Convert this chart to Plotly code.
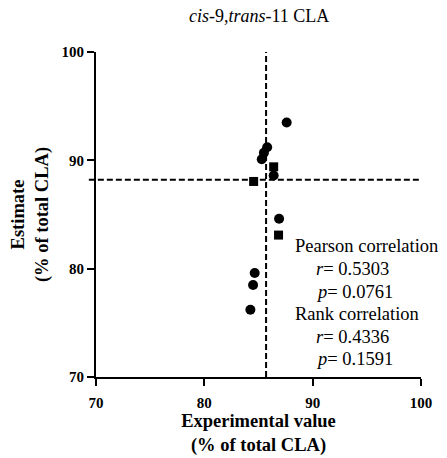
import plotly.graph_objects as go

# Data
circle_x = [87.6, 85.8, 85.5, 85.3, 86.4, 86.9, 84.65, 84.5, 84.25]
circle_y = [93.5, 91.2, 90.7, 90.1, 88.6, 84.6, 79.6, 78.5, 76.2]
square_x = [86.4, 84.55, 86.85]
square_y = [89.4, 88.05, 83.1]
ref_x = 85.7   # vertical dashed reference line
ref_y = 88.2   # horizontal dashed reference line
tick_vals = [70, 80, 90, 100]
stats_lines = [
    "Pearson correlation",
    "<i>r</i>= 0.5303",
    "<i>p</i>= 0.0761",
    "Rank correlation",
    "<i>r</i>= 0.4336",
    "<i>p</i>= 0.1591",
]

FONT = "Liberation Serif, Times New Roman, serif"

fig = go.Figure()
fig.add_trace(go.Scatter(
    x=circle_x, y=circle_y, mode="markers",
    marker=dict(symbol="circle", size=10, color="black"),
    showlegend=False, cliponaxis=False))
fig.add_trace(go.Scatter(
    x=square_x, y=square_y, mode="markers",
    marker=dict(symbol="square", size=9, color="black"),
    showlegend=False, cliponaxis=False))

# dashed reference lines
fig.add_shape(type="line", xref="x", yref="paper", x0=ref_x, x1=ref_x, y0=0, y1=1,
              line=dict(color="black", width=2, dash="6px,3px"))
fig.add_shape(type="line", xref="paper", yref="y", x0=-0.022, x1=1.0, y0=ref_y, y1=ref_y,
              line=dict(color="black", width=2, dash="6px,3px"))

# title
fig.add_annotation(text="<i>cis</i>-9,<i>trans</i>-11 CLA", xref="paper", yref="paper",
                   x=0.5, y=1, yshift=36.5, xanchor="center", yanchor="middle",
                   showarrow=False, font=dict(family=FONT, size=18, color="black"))

# statistics text
indent = [False, True, True, False, True, True]
y_px = [194, 217, 239.5, 262, 284.5, 307]   # centres, px from plot top
for line, ind, yp in zip(stats_lines, indent, y_px):
    fig.add_annotation(text=line, xref="paper", yref="paper",
                       x=(217.5 / 325) if ind else (197 / 325),
                       y=(325 - yp) / 325, xanchor="left", yanchor="middle",
                       showarrow=False, font=dict(family=FONT, size=18.5, color="black"))

axis_common = dict(
    range=[70, 100], tickvals=tick_vals, showline=True, linecolor="black", linewidth=2,
    ticks="outside", ticklen=7, tickwidth=2, tickcolor="black", showgrid=False,
    zeroline=False, tickfont=dict(family=FONT, size=15, color="black", weight="bold"),
    fixedrange=True, automargin=False,
)

fig.update_layout(
    width=447, height=458,
    margin=dict(l=96, r=26, t=52, b=81),
    paper_bgcolor="white", plot_bgcolor="white",
    font=dict(family=FONT, color="black"),
    xaxis=dict(**axis_common, ticklabelstandoff=4,
               title=dict(text="Experimental value<br>(% of total CLA)", standoff=0,
                          font=dict(family=FONT, size=18.5, color="black", weight="bold"))),
    yaxis=dict(**axis_common,
               title=dict(text="Estimate<br>(% of total CLA)", standoff=8,
                          font=dict(family=FONT, size=18.5, color="black", weight="bold"))),
)

fig.write_html("out.html", config={"displayModeBar": False},
               post_script="document.body.style.margin='0';document.body.style.overflow='hidden';")
